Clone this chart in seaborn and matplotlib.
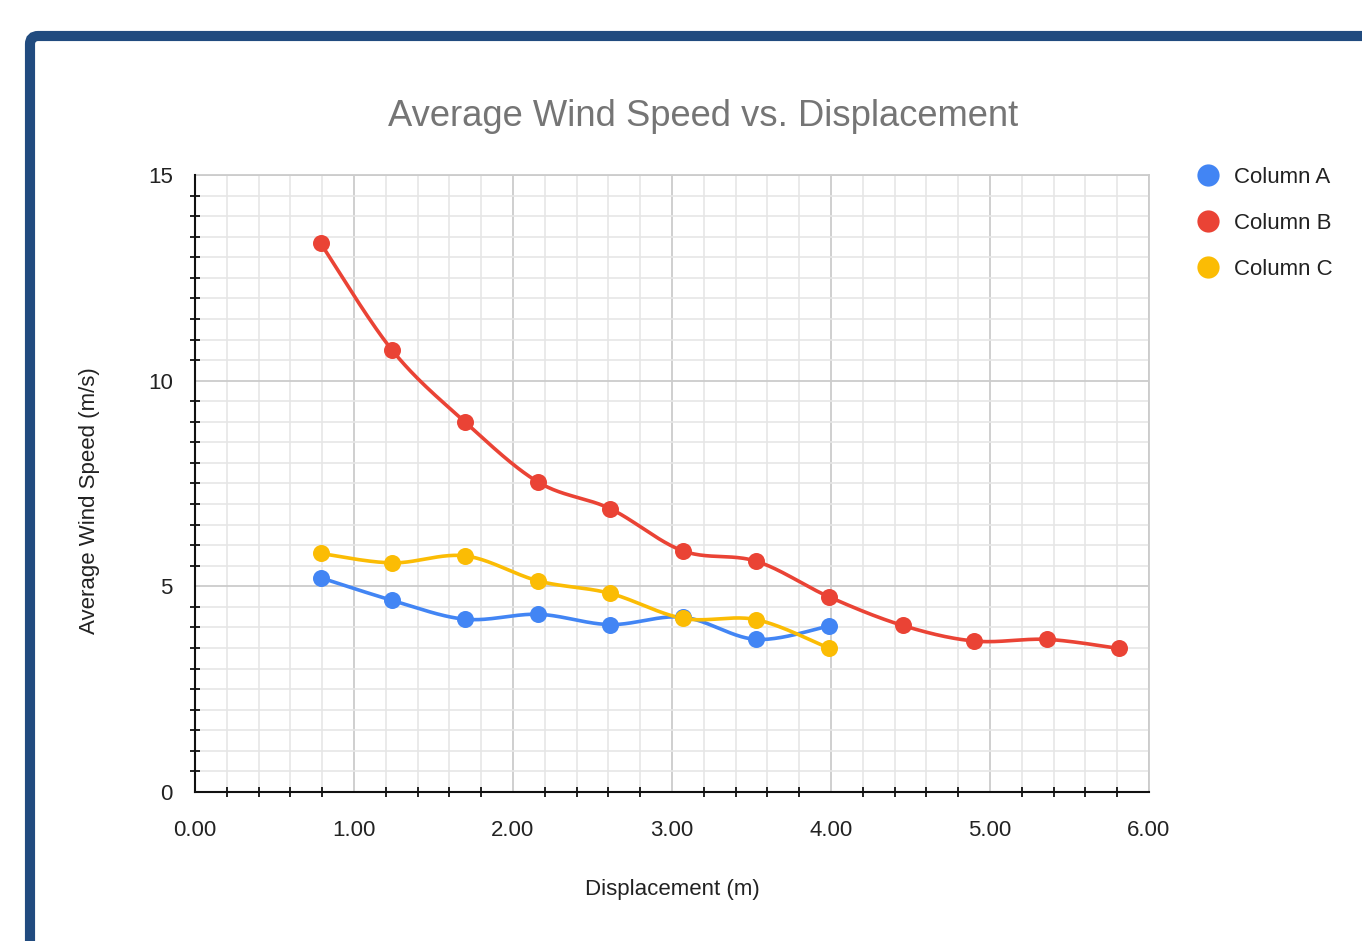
import numpy as np
import pandas as pd
import matplotlib
matplotlib.use("Agg")
import matplotlib.pyplot as plt
from matplotlib.lines import Line2D
from matplotlib.patches import FancyBboxPatch
from matplotlib.ticker import MultipleLocator, FormatStrFormatter
import seaborn as sns

# ---- data -------------------------------------------------------------
displacement = [0.79, 1.24, 1.70, 2.16, 2.61, 3.07, 3.53, 3.99, 4.45, 4.90, 5.36, 5.81]
column_a = [5.21, 4.66, 4.20, 4.32, 4.07, 4.25, 3.71, 4.04]
column_b = [13.34, 10.74, 8.99, 7.53, 6.89, 5.86, 5.61, 4.74, 4.05, 3.67, 3.71, 3.49]
column_c = [5.80, 5.57, 5.74, 5.13, 4.83, 4.22, 4.19, 3.49]
series_names = ["Column A", "Column B", "Column C"]
series_values = [column_a, column_b, column_c]
colors = ["#4285F4", "#EA4335", "#FBBC04"]

title = "Average Wind Speed vs. Displacement"
x_label = "Displacement (m)"
y_label = "Average Wind Speed (m/s)"

frames = []
for name, vals in zip(series_names, series_values):
    frames.append(pd.DataFrame({"series": name,
                                "x": displacement[:len(vals)],
                                "y": vals}))
df = pd.concat(frames, ignore_index=True)


def smooth_curve(x, y, steps=40):
    """Cubic Bezier segments with Catmull-Rom style control points."""
    x = np.asarray(x, float)
    y = np.asarray(y, float)
    n = len(x)
    xs, ys = [], []
    for i in range(n - 1):
        p0 = np.array([x[max(i - 1, 0)], y[max(i - 1, 0)]])
        p1 = np.array([x[i], y[i]])
        p2 = np.array([x[i + 1], y[i + 1]])
        p3 = np.array([x[min(i + 2, n - 1)], y[min(i + 2, n - 1)]])
        c1 = p1 + (p2 - p0) / 6.0
        c2 = p2 - (p3 - p1) / 6.0
        t = np.linspace(0, 1, steps)[:, None]
        pts = ((1 - t) ** 3) * p1 + 3 * ((1 - t) ** 2) * t * c1 \
            + 3 * (1 - t) * t ** 2 * c2 + t ** 3 * p2
        xs.append(pts[:, 0])
        ys.append(pts[:, 1])
    return np.concatenate(xs), np.concatenate(ys)


# ---- style ------------------------------------------------------------
sns.set_theme(style="white")
plt.rcParams["font.family"] = ["Liberation Sans", "DejaVu Sans"]

W, H = 1362, 941
fig = plt.figure(figsize=(W / 100, H / 100), dpi=100)
fig.patch.set_facecolor("white")
ax = fig.add_axes([195 / W, (H - 792) / H, (1149 - 195) / W, (792 - 175) / H])
ax.set_facecolor("white")

# dark blue card frame
frame = FancyBboxPatch((30 / W, -0.2), 1.3, (H - 36) / H + 0.2,
                       boxstyle="round,pad=0,rounding_size=0.006",
                       mutation_aspect=W / H,
                       transform=fig.transFigure, fill=False,
                       edgecolor="#214b7f", linewidth=7.3, clip_on=False,
                       zorder=0)
fig.patches.append(frame)

# ---- lines and points -------------------------------------------------
for name, color in zip(series_names, colors):
    sub = df[df["series"] == name]
    sx, sy = smooth_curve(sub["x"], sub["y"])
    ax.plot(sx, sy, color=color, lw=2.6, zorder=3, solid_capstyle="round")
    sns.scatterplot(data=sub, x="x", y="y", color=color, s=150,
                    linewidth=0, ax=ax, zorder=4, legend=False)

# ---- axes -------------------------------------------------------------
ax.set_xlim(0, 6)
ax.set_ylim(0, 15)
ax.xaxis.set_major_locator(MultipleLocator(1))
ax.xaxis.set_minor_locator(MultipleLocator(0.2))
ax.yaxis.set_major_locator(MultipleLocator(5))
ax.yaxis.set_minor_locator(MultipleLocator(0.5))
ax.xaxis.set_major_formatter(FormatStrFormatter("%.2f"))

ax.grid(which="major", color="#cccccc", lw=1.3, zorder=0)
ax.grid(which="minor", color="#e6e6e6", lw=1.2, zorder=0)
ax.set_axisbelow(True)

for side in ("top", "right"):
    ax.spines[side].set_color("#cccccc")
    ax.spines[side].set_linewidth(1.3)
for side in ("left", "bottom"):
    ax.spines[side].set_color("#111111")
    ax.spines[side].set_linewidth(1.5)
    ax.spines[side].set_zorder(5)

ax.tick_params(axis="both", which="major", direction="inout", length=16,
               width=1.5, color="#111111", labelsize=16, labelcolor="#222222")
ax.tick_params(axis="x", which="major", pad=12)
ax.tick_params(axis="y", which="major", pad=8)
ax.tick_params(axis="x", which="minor", direction="inout", length=7,
               width=1.3, color="#111111", bottom=True)
ax.tick_params(axis="y", which="minor", direction="inout", length=6.5,
               width=1.3, color="#111111", left=True)

ax.set_xlabel(x_label, fontsize=16, color="#222222")
ax.set_ylabel(y_label, fontsize=16, color="#222222")
ax.xaxis.set_label_coords(0.5, -0.141)
ax.yaxis.set_label_coords(-0.0996, 0.473)

fig.text(703.5 / W, 1 - 116 / H, title, ha="center", va="center",
         fontsize=26.2, color="#757575")

# ---- legend -----------------------------------------------------------
handles = [Line2D([], [], marker="o", linestyle="", markersize=16,
                  markerfacecolor=c, markeredgewidth=0) for c in colors]
fig.legend(handles, series_names, loc="upper left",
           bbox_to_anchor=(1195 / W, 1 - 167 / H), frameon=False,
           fontsize=16, labelcolor="#222222", handletextpad=0.57,
           labelspacing=1.13, handlelength=1.2, borderaxespad=0,
           borderpad=0)

fig.savefig("out.png", dpi=100, facecolor="white")
